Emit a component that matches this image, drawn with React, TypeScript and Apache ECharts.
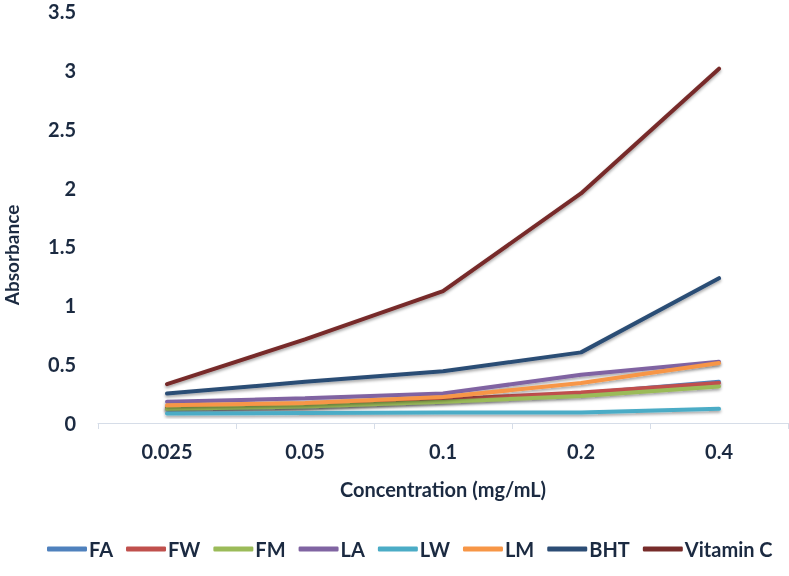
import React, { useEffect, useRef } from "react";
import * as echarts from "echarts";

const categories = ["0.025", "0.05", "0.1", "0.2", "0.4"];
const seriesNames = ["FA", "FW", "FM", "LA", "LW", "LM", "BHT", "Vitamin C"];
const FA = [0.12, 0.14, 0.19, 0.25, 0.35];
const FW = [0.13, 0.15, 0.2, 0.26, 0.34];
const FM = [0.12, 0.14, 0.18, 0.23, 0.31];
const LA = [0.18, 0.21, 0.25, 0.41, 0.52];
const LW = [0.08, 0.085, 0.09, 0.09, 0.12];
const LM = [0.15, 0.17, 0.22, 0.34, 0.51];
const BHT = [0.25, 0.35, 0.44, 0.6, 1.23];
const VitaminC = [0.33, 0.71, 1.12, 1.95, 3.01];
const allValues = [FA, FW, FM, LA, LW, LM, BHT, VitaminC];
const colors = ["#4F81BD", "#C0504D", "#9BBB59", "#8064A2", "#4BACC6", "#F79646", "#2C4D75", "#772C2A"];

const textColor = "#1b2a41";
const font = "Lato";
const weight = "bold";

export default function App() {
  const ref = useRef<HTMLDivElement>(null);
  useEffect(() => {
    if (!ref.current) return;
    const chart = echarts.init(ref.current, undefined, { renderer: "svg" });
    chart.setOption({
      animation: false,
      color: colors,
      grid: { left: 98, right: 1, top: 11, bottom: 153, containLabel: false },
      xAxis: {
        type: "category",
        data: categories,
        boundaryGap: true,
        axisLine: { lineStyle: { color: "#d6dde8", width: 1 } },
        axisTick: { show: true, length: 6, lineStyle: { color: "#d6dde8" } },
        axisLabel: { color: textColor, fontFamily: font, fontWeight: weight, fontSize: 20, margin: 18 },
        name: "Concentration (mg/mL)",
        nameLocation: "middle",
        nameGap: 56,
        nameTextStyle: { color: textColor, fontFamily: font, fontWeight: weight, fontSize: 20 },
      },
      yAxis: {
        type: "value",
        min: 0,
        max: 3.5,
        interval: 0.5,
        axisLine: { show: false },
        axisTick: { show: false },
        splitLine: { show: false },
        axisLabel: { color: textColor, fontFamily: font, fontWeight: weight, fontSize: 20, margin: 22 },
      },
      legend: {
        bottom: 12,
        left: 42,
        icon: "roundRect",
        itemWidth: 40,
        itemHeight: 5,
        itemGap: 13,
        textStyle: { color: textColor, fontFamily: font, fontWeight: weight, fontSize: 20, padding: [0, 0, 0, -3] },
        data: seriesNames,
      },
      graphic: [
        {
          type: "text",
          x: 11,
          y: 255,
          rotation: Math.PI / 2,
          style: {
            text: "Absorbance",
            fill: textColor,
            font: `${weight} 19px ${font}`,
            textAlign: "center",
            textVerticalAlign: "middle",
          },
        },
      ],
      series: seriesNames.map((name, i) => ({
        name,
        type: "line",
        data: allValues[i],
        symbol: "none",
        lineStyle: {
          width: 4,
          color: colors[i],
          cap: "round",
          shadowColor: "rgba(0,0,0,0.35)",
          shadowBlur: 3,
          shadowOffsetY: 2,
        },
        z: 2 + i,
      })),
    });
    return () => chart.dispose();
  }, []);
  return <div ref={ref} style={{ position: "fixed", left: 0, top: 0, width: 789, height: 576 }} />;
}
